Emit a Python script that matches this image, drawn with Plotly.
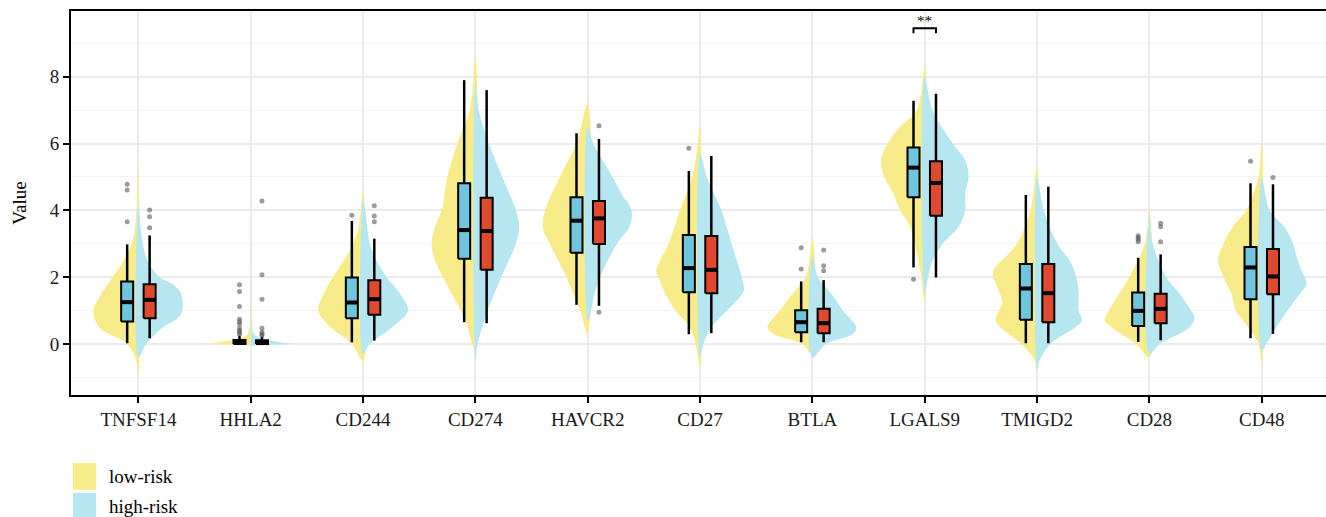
import plotly.graph_objects as go

genes = ["TNFSF14", "HHLA2", "CD244", "CD274", "HAVCR2", "CD27", "BTLA", "LGALS9", "TMIGD2", "CD28", "CD48"]

# box statistics, low-risk
low_q1 = [0.67, 0.00, 0.77, 2.55, 2.73, 1.55, 0.35, 4.39, 0.72, 0.54, 1.34]
low_med = [1.25, 0.04, 1.24, 3.41, 3.69, 2.27, 0.65, 5.28, 1.66, 0.99, 2.29]
low_q3 = [1.87, 0.12, 1.99, 4.81, 4.39, 3.26, 1.01, 5.88, 2.39, 1.54, 2.90]
low_lo = [0.02, 0.00, 0.05, 0.65, 1.17, 0.29, 0.05, 2.29, 0.02, 0.06, 0.17]
low_hi = [2.98, 0.25, 3.68, 7.90, 6.31, 5.18, 1.87, 7.28, 4.46, 2.58, 4.81]
# box statistics, high-risk
high_q1 = [0.77, 0.00, 0.87, 2.22, 2.99, 1.52, 0.32, 3.84, 0.65, 0.62, 1.49]
high_med = [1.32, 0.04, 1.34, 3.38, 3.76, 2.22, 0.62, 4.82, 1.52, 1.05, 2.02]
high_q3 = [1.79, 0.11, 1.91, 4.38, 4.28, 3.23, 1.05, 5.47, 2.39, 1.50, 2.84]
high_lo = [0.17, 0.00, 0.10, 0.62, 1.14, 0.32, 0.05, 1.99, 0.02, 0.11, 0.30]
high_hi = [3.25, 0.22, 3.15, 7.60, 6.14, 5.63, 1.91, 7.49, 4.71, 2.68, 4.78]

# outliers
low_out = [[4.78, 4.61, 3.66],
           [1.77, 1.57, 1.12, 0.74, 0.66, 0.60, 0.47, 0.40, 0.35, 0.30],
           [3.85], [], [], [5.86], [2.88, 2.24], [1.94], [],
           [3.24, 3.19, 3.13, 3.06], [5.47]]
high_out = [[4.01, 3.81, 3.48],
            [4.28, 2.07, 1.34, 0.47, 0.35, 0.30, 0.25],
            [4.14, 3.83, 3.66], [], [6.53, 0.95], [], [2.81, 2.34, 2.19], [], [],
            [3.61, 3.51, 3.06], [4.98]]

# violin density profiles (value levels and half-widths)
low_vy = [
    [-0.9, -0.5, 0, 0.5, 1.0, 1.5, 2.0, 2.5, 3.0, 3.5, 4.5, 5.5],
    [-0.04, -0.01, 0.0, 0.03, 0.06, 0.12, 0.2, 0.27, 0.5, 1.0, 1.8],
    [-0.5, 0, 0.5, 1.0, 1.5, 2.0, 2.5, 3.0, 3.5, 4.6],
    [-0.2, 0, 0.5, 1, 2, 2.5, 3, 3.5, 4, 5, 6, 7, 8.6],
    [0.3, 1, 2, 3, 3.5, 4, 5, 6, 7.2],
    [-0.7, 0, 0.5, 1, 1.5, 2, 2.2, 3, 4, 5, 6, 6.6],
    [-0.3, 0, 0.3, 0.5, 1, 1.5, 2, 3.2],
    [1.2, 2, 3, 3.5, 4, 4.5, 5, 5.5, 6, 6.5, 7, 8.3],
    [-0.9, -0.5, 0, 0.5, 0.7, 1, 1.2, 1.5, 2, 2.2, 3, 4, 5.3],
    [-0.4, 0, 0.5, 0.7, 1, 1.5, 2, 3, 4],
    [-0.6, 0, 0.5, 1, 1.5, 2, 2.5, 3, 3.5, 4, 5, 6.1],
]
low_vw = [
    [0, 0.02, 0.10, 0.35, 0.40, 0.33, 0.23, 0.13, 0.06, 0.03, 0.01, 0],
    [0, 0.30, 0.39, 0.33, 0.26, 0.16, 0.07, 0.03, 0.008, 0.003, 0],
    [0, 0.10, 0.29, 0.40, 0.35, 0.27, 0.17, 0.09, 0.04, 0],
    [0, 0.03, 0.07, 0.13, 0.29, 0.36, 0.39, 0.36, 0.30, 0.25, 0.16, 0.05, 0],
    [0, 0.07, 0.19, 0.34, 0.40, 0.38, 0.25, 0.10, 0],
    [0, 0.04, 0.09, 0.22, 0.31, 0.37, 0.39, 0.28, 0.18, 0.07, 0.02, 0],
    [0, 0.09, 0.35, 0.40, 0.29, 0.18, 0.06, 0],
    [0, 0.03, 0.09, 0.13, 0.22, 0.28, 0.36, 0.39, 0.33, 0.22, 0.07, 0],
    [0, 0.02, 0.14, 0.33, 0.37, 0.34, 0.31, 0.33, 0.39, 0.39, 0.18, 0.06, 0],
    [0, 0.12, 0.34, 0.40, 0.36, 0.27, 0.18, 0.04, 0],
    [0, 0.03, 0.12, 0.23, 0.27, 0.34, 0.39, 0.34, 0.26, 0.14, 0.03, 0],
]
high_vy = [
    [-0.4, 0, 0.5, 0.8, 1.0, 1.5, 1.8, 2.0, 2.5, 3.0, 3.5, 4.3],
    [-0.06, -0.02, 0, 0.03, 0.08, 0.15, 0.25, 0.37, 0.8, 2, 4.3],
    [-0.3, 0, 0.5, 1.0, 1.5, 2.0, 2.5, 3.0, 4.0, 4.4],
    [-0.5, 0, 1, 2, 3, 3.5, 4, 5, 6, 7, 7.8],
    [0.7, 1, 1.5, 2, 3, 3.5, 4, 4.5, 5, 6, 6.5],
    [-0.4, 0, 0.5, 1, 1.6, 2, 3, 4, 5, 5.7],
    [-0.4, 0, 0.3, 0.5, 1, 1.5, 2, 2.6],
    [1.5, 2, 2.5, 3, 3.5, 4, 4.5, 5, 5.5, 6, 7, 8],
    [-0.8, -0.5, 0, 0.5, 0.7, 1, 1.5, 2, 2.5, 3, 4, 5],
    [-0.3, 0, 0.5, 0.8, 1, 1.5, 2, 3, 3.9],
    [-0.2, 0, 0.5, 1, 1.5, 1.8, 2, 2.5, 3, 3.5, 4, 5],
]
high_vw = [
    [0, 0.07, 0.22, 0.36, 0.39, 0.38, 0.30, 0.19, 0.08, 0.04, 0.02, 0],
    [0, 0.30, 0.39, 0.30, 0.20, 0.10, 0.04, 0.015, 0.005, 0.003, 0],
    [0, 0.06, 0.26, 0.40, 0.33, 0.21, 0.12, 0.06, 0.02, 0],
    [0, 0.02, 0.11, 0.23, 0.36, 0.39, 0.36, 0.24, 0.12, 0.03, 0],
    [0, 0.03, 0.06, 0.11, 0.26, 0.37, 0.39, 0.30, 0.22, 0.05, 0],
    [0, 0.03, 0.10, 0.24, 0.39, 0.37, 0.28, 0.19, 0.06, 0],
    [0, 0.12, 0.36, 0.39, 0.27, 0.17, 0.05, 0],
    [0, 0.03, 0.07, 0.16, 0.30, 0.36, 0.36, 0.39, 0.36, 0.25, 0.07, 0],
    [0, 0.02, 0.12, 0.34, 0.40, 0.37, 0.37, 0.35, 0.29, 0.18, 0.06, 0],
    [0, 0.09, 0.36, 0.40, 0.37, 0.27, 0.15, 0.03, 0],
    [0, 0.04, 0.13, 0.23, 0.34, 0.40, 0.38, 0.32, 0.28, 0.20, 0.07, 0],
]

group_names = ["low-risk", "high-risk"]
sig_gene = "LGALS9"
sig_label = "**"

VIOLIN_LOW = "#F8EC8A"
VIOLIN_HIGH = "#B6E6EF"
BOX_LOW = "#6EC5DC"
BOX_HIGH = "#E0492E"
FONT = "Liberation Serif"
OFF = 0.1
BW = 0.107

fig = go.Figure()
pos = list(range(1, len(genes) + 1))

# violins
for i, g in enumerate(genes):
    c = pos[i]
    for vy, vw, sign, col in ((low_vy[i], low_vw[i], -1, VIOLIN_LOW),
                              (high_vy[i], high_vw[i], 1, VIOLIN_HIGH)):
        xs = [c + sign * w for w in vw] + [c]
        ys = list(vy) + [vy[0]]
        shape = dict(shape="linear") if (g == "HHLA2") else dict(shape="spline", smoothing=1.0)
        fig.add_trace(go.Scatter(x=xs, y=ys, mode="lines", fill="toself",
                                 fillcolor=col, line=dict(width=0, color=col, **shape),
                                 hoverinfo="skip", showlegend=False))

# boxes drawn from statistics
for off, fc, q1, md, q3, lo, hi in (
        (-OFF, BOX_LOW, low_q1, low_med, low_q3, low_lo, low_hi),
        (OFF, BOX_HIGH, high_q1, high_med, high_q3, high_lo, high_hi)):
    wx, wy = [], []
    for p, a, b, l, h in zip(pos, q1, q3, lo, hi):
        wx += [p + off, p + off, None, p + off, p + off, None]
        wy += [l, a, None, b, h, None]
    fig.add_trace(go.Scatter(x=wx, y=wy, mode="lines", line=dict(color="black", width=2.5),
                             hoverinfo="skip", showlegend=False))
    for p, a, b in zip(pos, q1, q3):
        x0, x1 = p + off - BW / 2, p + off + BW / 2
        fig.add_trace(go.Scatter(x=[x0, x1, x1, x0, x0], y=[a, a, b, b, a], mode="lines",
                                 fill="toself", fillcolor=fc,
                                 line=dict(color="black", width=2),
                                 hoverinfo="skip", showlegend=False))
    mx, my = [], []
    for p, m in zip(pos, md):
        mx += [p + off - BW / 2, p + off + BW / 2, None]
        my += [m, m, None]
    fig.add_trace(go.Scatter(x=mx, y=my, mode="lines", line=dict(color="black", width=4),
                             hoverinfo="skip", showlegend=False))

# outliers
for off, outs in ((-OFF, low_out), (OFF, high_out)):
    ox, oy = [], []
    for p, o in zip(pos, outs):
        ox += [p + off] * len(o)
        oy += o
    fig.add_trace(go.Scatter(x=ox, y=oy, mode="markers",
                             marker=dict(color="rgba(90,90,90,0.6)", size=5),
                             hoverinfo="skip", showlegend=False))

# significance bracket
sp = pos[genes.index(sig_gene)]
fig.add_shape(type="path", xref="x", yref="y",
              path=f"M {sp-OFF},9.3 L {sp-OFF},9.45 L {sp+OFF},9.45 L {sp+OFF},9.3",
              line=dict(color="black", width=2))
fig.add_annotation(x=sp, y=9.66, text=sig_label, showarrow=False, yanchor="middle",
                   font=dict(family=FONT, size=15, color="black"))

# legend (drawn)
for k, (name, col) in enumerate(zip(group_names, (VIOLIN_LOW, VIOLIN_HIGH))):
    y0 = -0.177 - k * 0.078
    fig.add_shape(type="rect", xref="paper", yref="paper", x0=0.0016, x1=0.0199,
                  y0=y0 - 0.070, y1=y0, fillcolor=col, line=dict(width=0))
    fig.add_annotation(xref="paper", yref="paper", x=0.0287, y=y0 - 0.035, text=name,
                       showarrow=False, xanchor="left", yanchor="middle",
                       font=dict(family=FONT, size=19, color="black"))

fig.update_layout(
    width=1326, height=517,
    margin=dict(l=71, r=0, t=11, b=122),
    plot_bgcolor="white", paper_bgcolor="white",
    font=dict(family=FONT, size=19, color="black"),
    showlegend=False,
    xaxis=dict(range=[0.4, 11.572], tickvals=pos, ticktext=genes, showgrid=True,
               gridcolor="#EBEBEB", gridwidth=2, showline=True, linecolor="black",
               linewidth=2, mirror=True, ticks="outside", ticklen=6, tickwidth=2,
               tickcolor="black", zeroline=False,
               tickfont=dict(family=FONT, size=19, color="#1a1a1a")),
    yaxis=dict(range=[-1.53, 9.97], tick0=0, dtick=2, showgrid=True,
               gridcolor="#EBEBEB", gridwidth=2, showline=True, linecolor="black",
               linewidth=2, ticks="outside", ticklen=6, tickwidth=2, tickcolor="black",
               zeroline=False,
               minor=dict(dtick=1, tick0=0, showgrid=True, gridcolor="#F3F3F3", gridwidth=1),
               title=dict(text="Value", font=dict(family=FONT, size=19), standoff=18),
               tickfont=dict(family=FONT, size=19, color="#1a1a1a")),
)

fig.write_html("out.html")
